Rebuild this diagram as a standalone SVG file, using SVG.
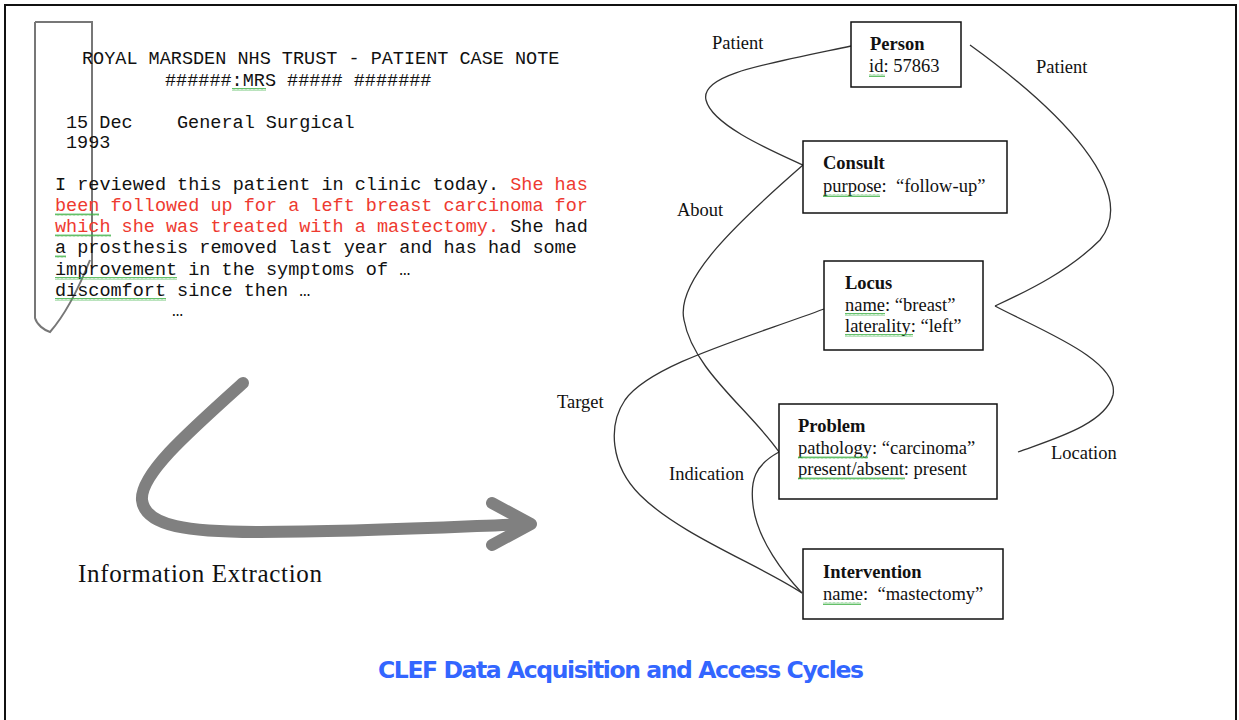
<svg xmlns="http://www.w3.org/2000/svg" width="1239" height="720" viewBox="0 0 1239 720">
<style>
.mono{font-family:"Liberation Mono","Courier New",monospace;font-size:18.5px;fill:#111}
.red{fill:#ee3a30}
.ser{font-family:"Liberation Serif","Times New Roman",serif;font-size:18.5px;fill:#111}
.b{font-weight:bold}
.box{fill:#fff;stroke:#111;stroke-width:1.5}
.con{fill:none;stroke:#333;stroke-width:1.3}
.sq{fill:url(#zig)}
.title{font-family:"DejaVu Sans","Liberation Sans",sans-serif;font-weight:bold;font-size:23.5px;fill:#3366ff}
</style>
<defs>
<pattern id="zig" width="4" height="3" patternUnits="userSpaceOnUse">
<path d="M0,2.5 L1,0.5 L2,2.5 L3,0.5 L4,2.5" fill="none" stroke="#3cb043" stroke-width="0.8"/>
</pattern>
</defs>
<rect x="0" y="0" width="1239" height="720" fill="#fff"/>
<rect x="5" y="5" width="1231" height="730" fill="none" stroke="#111" stroke-width="2"/>

<g id="case-note">
<path d="M35,22 L92,22 L92,267 M90,260 C80,285 65,315 50,332 C44,330 37,325 35,318 L35,22" fill="none" stroke="#777" stroke-width="2"/>
<text class="mono" x="82" y="64">ROYAL MARSDEN NHS TRUST - PATIENT CASE NOTE</text>
<text class="mono" x="165" y="86" xml:space="preserve">######:MRS ##### #######</text>
<text class="mono" x="66" y="128" xml:space="preserve">15 Dec    General Surgical</text>
<text class="mono" x="66" y="148">1993</text>
<text class="mono" x="55" y="190" xml:space="preserve">I reviewed this patient in clinic today. <tspan class="red">She has</tspan></text>
<text class="mono red" x="55" y="211">been followed up for a left breast carcinoma for</text>
<text class="mono" x="55" y="232" xml:space="preserve"><tspan class="red">which she was treated with a mastectomy.</tspan> She had</text>
<text class="mono" x="55" y="253">a prosthesis removed last year and has had some</text>
<text class="mono" x="55" y="275">improvement in the symptoms of …</text>
<text class="mono" x="55" y="296">discomfort since then …</text>
<text class="mono" x="172" y="316">…</text>
<rect class="sq" x="232" y="88" width="34" height="3"/>
<rect class="sq" x="55" y="213" width="44" height="3"/>
<rect class="sq" x="55" y="234" width="56" height="3"/>
<rect class="sq" x="55" y="255" width="11" height="3"/>
<rect class="sq" x="55" y="277" width="122" height="3"/>
<rect class="sq" x="55" y="298" width="111" height="3"/>
</g>

<g id="extraction-arrow">
<path d="M243,383 C185,435 140,475 142,500 C145,527 190,532 260,532 C360,532 450,527 527,524" fill="none" stroke="#808080" stroke-width="12" stroke-linecap="round"/>
<path d="M492,503 L531,524 L492,545" fill="none" stroke="#808080" stroke-width="12" stroke-linecap="round" stroke-linejoin="round"/>
<text class="ser" x="78" y="582" style="font-size:25px" textLength="244">Information Extraction</text>
</g>

<g id="connectors">
<path class="con" d="M851,46 C760,65 700,75 706,100 C712,125 770,150 803,165"/>
<path class="con" d="M970,45 C1060,110 1140,190 1100,240 C1070,270 1030,290 995,306"/>
<path class="con" d="M995,306 C1040,330 1120,360 1113,395 C1105,425 1050,440 1018,452"/>
<path class="con" d="M803,165 C740,220 675,280 684,320 C693,370 750,410 779,452"/>
<path class="con" d="M824,309 C740,340 650,365 625,400 C608,425 610,465 640,495 C680,535 760,565 802,593"/>
<path class="con" d="M779,452 C755,465 750,480 753,505 C757,540 785,575 802,593"/>
<text class="ser" x="712" y="49">Patient</text>
<text class="ser" x="1036" y="73">Patient</text>
<text class="ser" x="677" y="216">About</text>
<text class="ser" x="557" y="408">Target</text>
<text class="ser" x="669" y="480">Indication</text>
<text class="ser" x="1051" y="459">Location</text>
</g>

<g id="person">
<rect class="box" x="851" y="22" width="110" height="65"/>
<text class="ser b" x="870" y="50">Person</text>
<text class="ser" x="869" y="72">id: 57863</text>
<rect class="sq" x="869" y="74" width="16" height="3"/>
</g>
<g id="consult">
<rect class="box" x="803" y="141" width="204" height="72"/>
<text class="ser b" x="823" y="169">Consult</text>
<text class="ser" x="823" y="192" xml:space="preserve">purpose:  “follow-up”</text>
<rect class="sq" x="823" y="194" width="57" height="3"/>
</g>
<g id="locus">
<rect class="box" x="824" y="261" width="159" height="89"/>
<text class="ser b" x="845" y="289">Locus</text>
<text class="ser" x="845" y="311">name: “breast”</text>
<text class="ser" x="845" y="332">laterality: “left”</text>
<rect class="sq" x="845" y="313" width="40" height="3"/>
<rect class="sq" x="845" y="334" width="68" height="3"/>
</g>
<g id="problem">
<rect class="box" x="779" y="404" width="218" height="95"/>
<text class="ser b" x="798" y="432">Problem</text>
<text class="ser" x="798" y="454">pathology: “carcinoma”</text>
<text class="ser" x="798" y="475">present/absent: present</text>
<rect class="sq" x="798" y="456" width="70" height="3"/>
<rect class="sq" x="798" y="477" width="107" height="3"/>
</g>
<g id="intervention">
<rect class="box" x="803" y="549" width="200" height="70"/>
<text class="ser b" x="823" y="578">Intervention</text>
<text class="ser" x="823" y="600" xml:space="preserve">name:  “mastectomy”</text>
<rect class="sq" x="823" y="602" width="38" height="3"/>
</g>

<text class="title" x="378" y="678" textLength="486">CLEF Data Acquisition and Access Cycles</text>
</svg>
